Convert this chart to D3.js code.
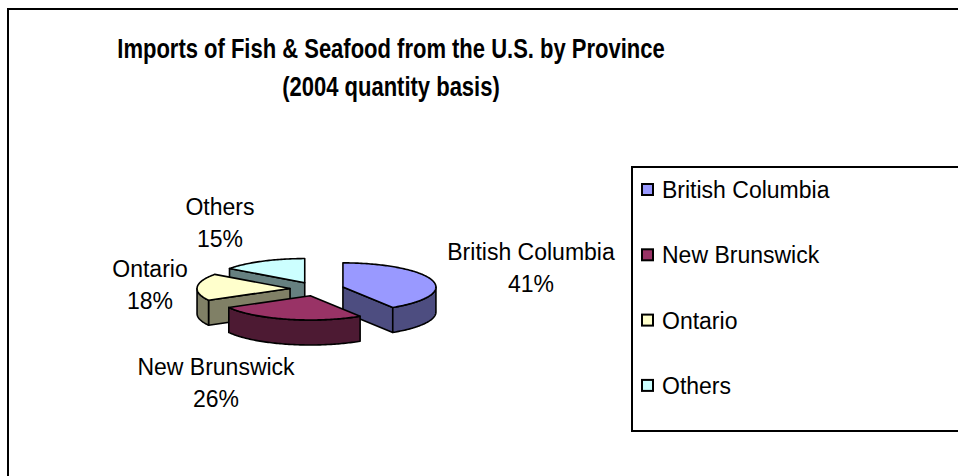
<!DOCTYPE html>
<html>
<head>
<meta charset="utf-8">
<script src="https://cdn.jsdelivr.net/npm/d3@7"></script>
<style>
  html, body { margin: 0; padding: 0; background: #fff; }
  svg { display: block; }
  text { font-family: "Liberation Sans", Arial, sans-serif; fill: #000; }
</style>
</head>
<body>
<svg id="chart" width="958" height="476"></svg>
<script>
"use strict";

// chart data
const categories = ["British Columbia", "New Brunswick", "Ontario", "Others"];
const shares = [41, 26, 18, 15];
const topColors = ["#9999FF", "#993366", "#FFFFCC", "#CCFFFF"];
const sideColors = ["#4D4D80", "#4D1A33", "#808066", "#668080"];
const titleLines = ["Imports of Fish & Seafood from the U.S. by Province", "(2004 quantity basis)"];

// layout
const width = 958;
const height = 476;
const pieCx = 317, pieCy = 289;
const rx = 93, tilt = 0.26, depth = 25, explode = 27;
// label block centres, relative to the pie centre
const labelOffset = {
  "British Columbia": [214, -21],
  "New Brunswick": [-101, 94],
  "Ontario": [-167, -4],
  "Others": [-97, -66]
};

const svg = d3.select("#chart");

svg.append("rect")
  .attr("x", 8).attr("y", 9)
  .attr("width", width + 20).attr("height", height + 20)
  .attr("fill", "#fff").attr("stroke", "#000").attr("stroke-width", 2);

// title: tall, narrow face, so a larger size squeezed sideways
svg.append("g")
  .attr("transform", "translate(391,0) scale(0.8,1)")
  .attr("text-anchor", "middle")
  .style("font-size", "27.5px")
  .style("font-weight", "bold")
  .selectAll("text")
  .data(titleLines)
  .join("text")
  .attr("x", 0)
  .attr("y", (d, i) => 58 + i * 38)
  .text(d => d);

const data = categories.map((c, i) => ({ name: c, value: shares[i], top: topColors[i], side: sideColors[i] }));

const arcs = d3.pie().sort(null).value(d => d.value)(data);

// projection of (angle, radius, z) around an origin
const proj = (o, a, r, z) => [o[0] + r * Math.sin(a), o[1] - r * Math.cos(a) * tilt + z];

const line = d3.line();

const arcPoints = (o, a0, a1, z) => {
  const n = Math.max(2, Math.ceil((a1 - a0) / 0.02));
  return d3.range(n + 1).map(i => proj(o, a0 + (a1 - a0) * i / n, rx, z));
};

arcs.forEach(d => {
  d.mid = (d.startAngle + d.endAngle) / 2;
  d.origin = proj([pieCx, pieCy], d.mid, explode, 0);
});

// back to front
const order = arcs.slice().sort((a, b) => -Math.cos(a.mid) - -Math.cos(b.mid));

const pieG = svg.append("g")
  .attr("stroke", "#000")
  .attr("stroke-width", 1.6)
  .attr("stroke-linejoin", "round");

order.forEach(d => {
  const o = d.origin;
  const g = pieG.append("g");
  const faces = [];

  // cut faces facing the viewer
  if (Math.sin(d.startAngle) < -1e-6) faces.push(d.startAngle);
  if (Math.sin(d.endAngle) > 1e-6) faces.push(d.endAngle);
  faces.forEach(a => {
    const pts = [o, proj(o, a, rx, 0), proj(o, a, rx, depth), [o[0], o[1] + depth]];
    g.append("path").attr("d", line(pts) + "Z").attr("fill", d.data.side);
  });

  // outer wall, front half only
  const s = Math.max(d.startAngle, Math.PI / 2);
  const e = Math.min(d.endAngle, Math.PI * 1.5);
  if (e > s) {
    const pts = arcPoints(o, s, e, 0).concat(arcPoints(o, s, e, depth).reverse());
    g.append("path").attr("d", line(pts) + "Z").attr("fill", d.data.side);
  }

  // top face
  const topPts = [o].concat(arcPoints(o, d.startAngle, d.endAngle, 0));
  g.append("path").attr("d", line(topPts) + "Z").attr("fill", d.data.top);
});

// data labels
const labels = svg.append("g")
  .attr("text-anchor", "middle")
  .style("font-size", "23px")
  .selectAll("g")
  .data(arcs)
  .join("g")
  .attr("transform", d => {
    const off = labelOffset[d.data.name];
    return `translate(${pieCx + off[0]},${pieCy + off[1]})`;
  });

labels.append("text").attr("y", -8).text(d => d.data.name);
labels.append("text").attr("y", 24).text(d => d.data.value + "%");

// legend
const legX = 632, legY = 167, legH = 264, rowStep = 65.3;
svg.append("rect")
  .attr("x", legX).attr("y", legY)
  .attr("width", 340).attr("height", legH)
  .attr("fill", "#fff").attr("stroke", "#000").attr("stroke-width", 2);

const legRow = svg.append("g")
  .selectAll("g")
  .data(data)
  .join("g")
  .attr("transform", (d, i) => `translate(${legX}, ${legY + 23 + i * rowStep})`);

legRow.append("rect")
  .attr("x", 10).attr("y", -6)
  .attr("width", 11).attr("height", 11)
  .attr("fill", d => d.top)
  .attr("stroke", "#000").attr("stroke-width", 2);

legRow.append("text")
  .attr("x", 30).attr("y", 8)
  .style("font-size", "23px")
  .text(d => d.name);
</script>
</body>
</html>
